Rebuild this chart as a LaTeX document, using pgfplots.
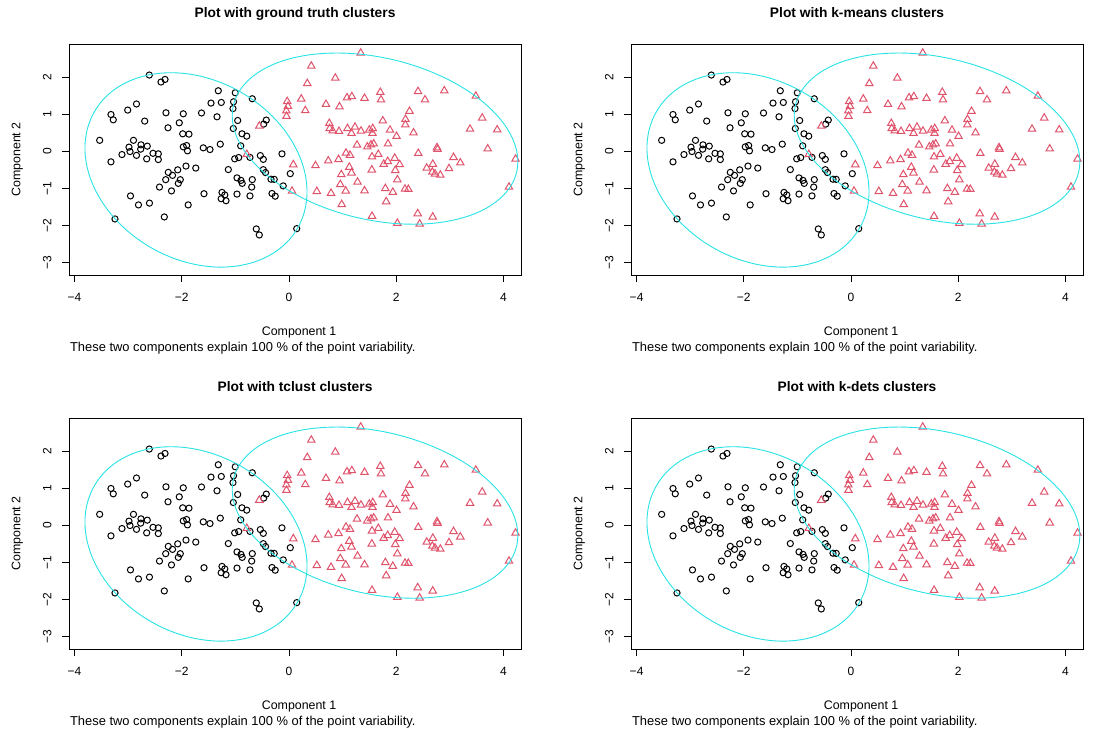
\documentclass[border=0pt]{standalone}
\usepackage{pgfplots}
\pgfplotsset{compat=1.18}
\usepackage{pgfplotstable}
\usepackage{fontspec}
\setmainfont{Liberation Sans}

\definecolor{clblack}{HTML}{000000}
\definecolor{clred}{HTML}{DF536B}
\definecolor{clcyan}{HTML}{28E2E5}

% first two principal component scores, cluster 1
\pgfplotstableread{
x y
-2.606 2.054
-2.388 1.865
-2.313 1.935
-1.319 1.630
-1.455 1.297
-1.263 1.314
-2.845 1.273
-3.009 1.108
-3.321 0.989
-3.278 0.846
-2.692 0.811
-2.295 1.035
-1.972 1.008
-1.632 1.030
-2.047 0.765
-2.257 0.630
-1.343 0.927
-1.983 0.468
-1.866 0.459
-3.532 0.292
-2.901 0.292
-2.985 0.108
-2.761 0.170
-2.644 0.135
-2.767 0.054
-2.966 -0.011
-3.116 -0.092
-2.845 -0.114
-2.537 -0.059
-2.438 -0.073
-2.655 -0.208
-2.438 -0.227
-3.321 -0.289
-1.972 0.116
-1.909 0.151
-1.894 0.008
-1.599 0.089
-1.474 0.043
-1.282 0.189
-1.922 -0.403
-1.739 -0.457
-2.076 -0.505
-2.252 -0.573
-2.173 -0.654
-2.300 -0.770
-2.028 -0.770
-2.065 -0.870
-2.416 -0.970
-2.192 -1.073
-2.957 -1.208
-1.586 -1.149
-2.808 -1.451
-2.603 -1.403
-1.881 -1.451
-2.326 -1.776
-3.246 -1.830
-1.002 1.576
-1.035 1.332
-1.045 1.149
-0.685 1.414
-0.957 0.827
-1.039 0.611
-0.877 0.468
-0.789 0.405
-0.424 0.838
-0.472 0.730
-0.901 0.143
-0.938 -0.173
-1.013 -0.208
-0.728 -0.168
-0.535 -0.119
-0.479 -0.222
-0.131 -0.073
-1.132 -0.497
-0.479 -0.500
-0.438 -0.578
-0.336 -0.757
-0.276 -0.762
0.024 -0.608
-0.970 -0.722
-0.896 -0.789
-0.873 -0.870
-0.685 -0.768
-0.696 -0.970
-0.108 -0.938
-0.317 -1.143
-0.257 -1.216
-1.250 -1.114
-1.198 -1.181
-1.175 -1.338
-1.265 -1.284
-0.970 -1.159
-0.728 -1.208
-0.610 -2.100
-0.554 -2.262
0.144 -2.092
}\groupone

% scores, cluster 2
\pgfplotstableread{
x y
1.338 2.649
0.416 2.297
0.864 1.973
0.341 1.827
0.229 1.408
-0.034 1.341
-0.019 1.211
-0.050 1.089
-0.047 0.941
0.304 1.095
0.690 1.265
0.942 1.197
1.082 1.441
1.172 1.473
1.409 1.427
1.703 1.589
1.716 1.386
1.750 0.819
0.752 0.751
0.759 0.611
0.815 0.549
0.933 0.535
1.091 0.611
1.231 0.649
1.166 0.481
1.343 0.543
1.498 0.570
1.562 0.611
1.558 0.481
1.884 0.568
2.006 0.400
2.323 0.495
-0.554 0.676
1.269 0.165
1.461 0.116
1.530 0.170
1.580 0.197
1.847 0.197
2.761 0.095
2.771 0.049
1.063 -0.051
1.138 -0.108
1.666 -0.086
1.549 -0.154
0.924 -0.224
0.733 -0.262
2.412 -0.059
1.972 -0.189
1.841 -0.276
1.767 -0.351
2.065 -0.362
1.545 -0.505
1.983 -0.519
1.125 -0.432
1.166 -0.586
0.976 -0.632
2.569 -0.457
2.683 -0.351
2.674 -0.565
2.724 -0.614
2.823 -0.646
2.985 -0.470
2.021 -0.770
1.278 -0.835
0.957 -0.900
1.058 -1.073
1.409 -1.068
1.797 -1.008
1.937 -1.108
2.164 -1.024
2.226 -1.030
0.080 -0.365
0.494 -0.389
0.056 -1.078
0.519 -1.086
0.784 -1.135
0.983 -1.438
1.813 -1.362
1.549 -1.757
2.248 1.076
2.173 0.859
2.170 0.711
2.407 1.611
2.897 1.630
2.537 1.386
3.485 1.486
3.604 0.895
3.377 0.595
3.884 0.576
3.707 0.062
3.069 -0.168
3.196 -0.316
4.226 -0.214
4.104 -0.970
2.401 -1.686
2.681 -1.776
2.021 -1.946
2.438 -1.965
-0.787 -0.086
}\grouptwo

% concentration ellipse: centre (#1,#2), conjugate semi-axes (#3,#4) and (#5,#6)
\newcommand{\clusellipse}[6]{%
  \pgfplotsextra{%
    \begin{pgfscope}%
      \pgfsetstrokecolor{clcyan}%
      \pgfsetlinewidth{0.9pt}%
      \pgfpathellipse{\pgfplotspointaxisxy{#1}{#2}}%
        {\pgfplotspointaxisdirectionxy{#3}{#4}}%
        {\pgfplotspointaxisdirectionxy{#5}{#6}}%
      \pgfusepath{stroke}%
    \end{pgfscope}%
  }%
}

\pgfplotsset{
  clusaxis/.style={
    scale only axis, width=452pt, height=231pt, anchor=south west,
    clip mode=individual,
    xmin=-4.104, xmax=4.328, ymin=-3.343, ymax=2.892,
    axis line style={line width=0.9pt, black},
    tick align=outside, tick pos=left,
    major tick length=7pt,
    tick style={line width=0.9pt, black},
    xtick={-4,-2,0,2,4}, xticklabels={−4,−2,0,2,4},
    ytick={-3,-2,-1,0,1,2}, yticklabels={−3,−2,−1,0,1,2},
    ticklabel style={font=\fontsize{12}{14}\selectfont},
    xticklabel style={anchor=base, inner sep=0pt},
    xticklabel shift=19.3pt,
    yticklabel style={rotate=90, anchor=base, inner sep=0pt},
    yticklabel shift=10.7pt,
    title style={font=\fontsize{13.8}{16}\selectfont\bfseries,
      at={(axis description cs:0.5,1.090)}, anchor=base},
    xlabel={Component 1},
    xlabel style={font=\fontsize{12.4}{14}\selectfont,
      at={(axis description cs:0.509,-0.2615)}, anchor=base},
    ylabel={Component 2},
    ylabel style={font=\fontsize{12.4}{14}\selectfont,
      at={(axis description cs:-0.1077,0.5)}, anchor=base},
  },
  grpone/.style={only marks, mark=o, mark size=3.1pt,
    mark options={line width=1pt, draw=clblack}},
  grptwo/.style={only marks, mark=triangle, mark size=4.3pt,
    mark options={line width=1pt, draw=clred}},
}

\newcommand{\cluspanel}[3]{%
  \begin{axis}[clusaxis, at={(#1,#2)}, title={#3}]
    \addplot[grpone] table {\groupone};
    \addplot[grptwo] table {\grouptwo};
    \clusellipse{-1.735}{-0.507}{1.003}{-2.522}{1.812}{0.721}
    \clusellipse{1.605}{0.338}{2.437}{-1.464}{1.074}{1.787}
    \node[anchor=base west, inner sep=0pt, font=\fontsize{12.9}{15}\selectfont]
      at (axis description cs:0.002,-0.330)
      {These two components explain 100 \% of the point variability.};
  \end{axis}%
}

\begin{document}
\begin{tikzpicture}[x=1pt, y=1pt]
  \path[use as bounding box] (0,0) rectangle (1097,731);
  \cluspanel{69pt}{456pt}{Plot with ground truth clusters}
  \cluspanel{631pt}{456pt}{Plot with k-means clusters}
  \cluspanel{69pt}{82pt}{Plot with tclust clusters}
  \cluspanel{631pt}{82pt}{Plot with k-dets clusters}
\end{tikzpicture}
\end{document}
